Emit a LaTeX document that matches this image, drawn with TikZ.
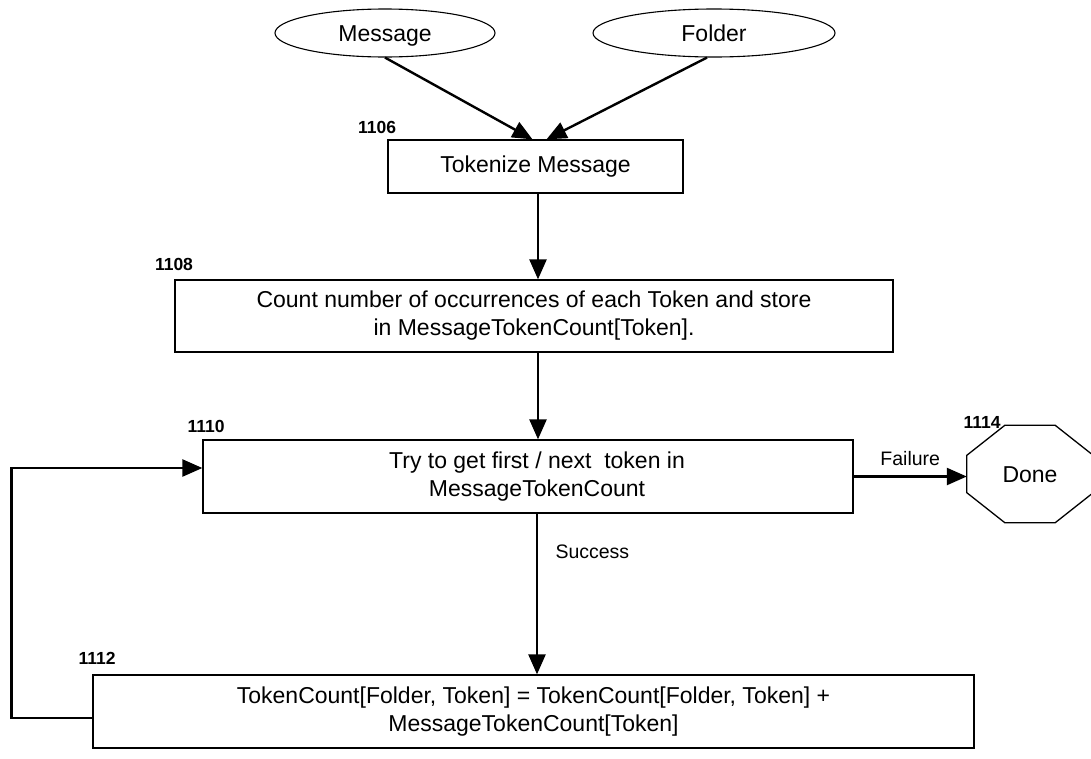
\documentclass[tikz,border=0pt]{standalone}
\usepackage{fontspec}
\setmainfont{Liberation Sans}
\usetikzlibrary{arrows.meta,shapes.geometric}

\tikzset{
    stepbox/.style={draw, line width=1.3pt, inner sep=0pt, align=center,
        font=\fontsize{23}{28}\selectfont},
    inbox/.style={ellipse, draw, line width=1.1pt, inner sep=0pt,
        text height=16.5pt, text depth=0.5pt,
        font=\fontsize{23}{28}\selectfont},
    refnum/.style={font=\fontsize{17.5}{20}\selectfont\bfseries},
    edgelabel/.style={font=\fontsize{19.5}{22}\selectfont},
    arr/.style={line width=2.4pt, -{Triangle[length=20pt,width=17pt]}}
}

\begin{document}
\begin{tikzpicture}[x=1pt,y=-1pt]
    \useasboundingbox (0,0) rectangle (1091,758);

    % inputs
    \node[inbox, minimum width=220, minimum height=48] (msg) at (385,33) {Message};
    \node[inbox, minimum width=242, minimum height=48] (fld) at (714,33) {Folder};

    % 1106
    \node[refnum] (n1106) at (377,127) {1106};
    \node[stepbox, minimum width=295, minimum height=53] (tok) at (535.5,166.5) {Tokenize Message};

    % 1108
    \node[refnum] (n1108) at (174,264) {1108};
    \node[stepbox, minimum width=718, minimum height=72] (count) at (534,316)
        {Count number of occurrences of each Token and store\\ in MessageTokenCount[Token].};

    % 1110
    \node[refnum] (n1110) at (206,426) {1110};
    \node[stepbox, minimum width=650, minimum height=73] (try) at (528,476.5)
        {\hspace*{18pt}Try to get first / next~ token in\\ \hspace*{18pt}MessageTokenCount};

    % 1114
    \node[refnum] (n1114) at (982,422) {1114};
    \node[font=\fontsize{23}{28}\selectfont, minimum width=126, minimum height=97,
        text height=16.5pt, text depth=0.5pt, inner sep=0pt] (done) at (1030,474) {Done};
    \draw[line width=1.3pt] ([xshift=38pt]done.north west) -- ([xshift=-38pt]done.north east)
        -- ([yshift=-30pt]done.north east) -- ([yshift=30pt]done.south east)
        -- ([xshift=-38pt]done.south east) -- ([xshift=38pt]done.south west)
        -- ([yshift=30pt]done.south west) -- ([yshift=-30pt]done.north west) -- cycle;

    % 1112
    \node[refnum] (n1112) at (97,658) {1112};
    \node[stepbox, minimum width=881, minimum height=73] (upd) at (533.5,711.5)
        {TokenCount[Folder, Token] = TokenCount[Folder, Token] +\\ MessageTokenCount[Token]};

    % connectors
    \draw[arr] (msg.south) -- ([xshift=-3pt]tok.north);
    \draw[arr] ([xshift=-7pt]fld.south) -- ([xshift=11pt]tok.north);
    \draw[arr] ([xshift=2.5pt]tok.south) -- ([xshift=2.5pt]tok.south |- count.north);
    \draw[arr] ([xshift=4pt]count.south) -- ([xshift=4pt]count.south |- try.north);
    \draw[arr] (try.east) -- (try.east -| done.west)
        node[edgelabel, midway, above=6pt] (fail) {Failure};
    \draw[arr] ([xshift=9pt]try.south) -- ([xshift=9pt]try.south |- upd.north)
        node[edgelabel, pos=0.24, right=14pt] (succ) {Success};
    \draw[arr] ([yshift=-6.5pt]upd.west) -- ++(-81,0) |- ([yshift=8.5pt]try.west);

\end{tikzpicture}
\end{document}
